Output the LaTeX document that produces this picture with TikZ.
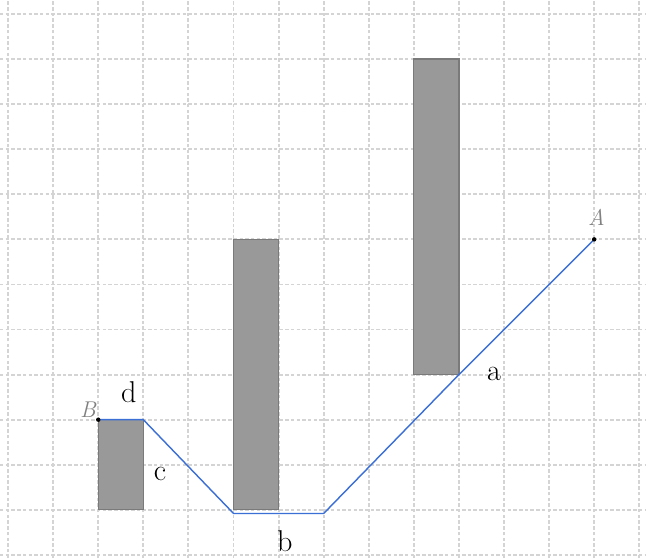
\documentclass[tikz,border=0pt]{standalone}
\usepackage{tikz}
\usetikzlibrary{positioning}
\definecolor{GridGray}{HTML}{D4D4D4}
\definecolor{BlockGray}{HTML}{999999}
\definecolor{EdgeGray}{HTML}{7A7A7A}
\definecolor{RouteBlue}{HTML}{3B6FD6}

\begin{document}
\begin{tikzpicture}[x=1cm,y=1cm,
    gridline/.style={GridGray,line width=1.2pt,dash pattern=on 2.2pt off 1.4pt},
    block/.style={fill=BlockGray,draw=EdgeGray,line width=0.8pt},
    route/.style={RouteBlue,line width=0.9pt},
    seg/.style={font=\fontsize{19}{22}\selectfont,inner sep=0pt},
    endpt/.style={font=\Large\itshape,text=gray,inner sep=0pt},
    dot/.style={circle,fill=black,inner sep=0pt,minimum size=2.8pt}]
    \useasboundingbox (-0.18,-0.07) rectangle (14.15,12.31);
    % background grid
    \foreach \i in {0,...,14} \draw[gridline] (\i,-0.07) -- (\i,12.31);
    \foreach \j in {0,...,12} \draw[gridline] (-0.18,\j) -- (14.15,\j);
    % obstacles
    \draw[block] (2,1) rectangle (3,3);
    \draw[block] (5,1) rectangle (6,7);
    \draw[block] (9,4) rectangle (10,11);
    % route from B to A
    \coordinate (B) at (2,3);
    \coordinate (p1) at (3,3);
    \coordinate (p2) at (5,0.92);
    \coordinate (p3) at (7,0.92);
    \coordinate (p4) at (10,4);
    \coordinate (A) at (13,7);
    \draw[route] (B) -- (p1) -- (p2) -- (p3) -- (p4) -- (A);
    \node[dot] at (A) {};
    \node[dot] at (B) {};
    \node[endpt] (labB) at (1.77,3.22) {B};
    \node[endpt] (labA) at (13.05,7.48) {A};
    % segment labels
    \node[seg] (d) at (2.68,3.62) {d};
    \node[seg] (c) at (3.37,1.8) {c};
    \node[seg] (b) at (6.14,0.3) {b};
    \node[seg] (a) at (10.78,4.02) {a};
\end{tikzpicture}
\end{document}
